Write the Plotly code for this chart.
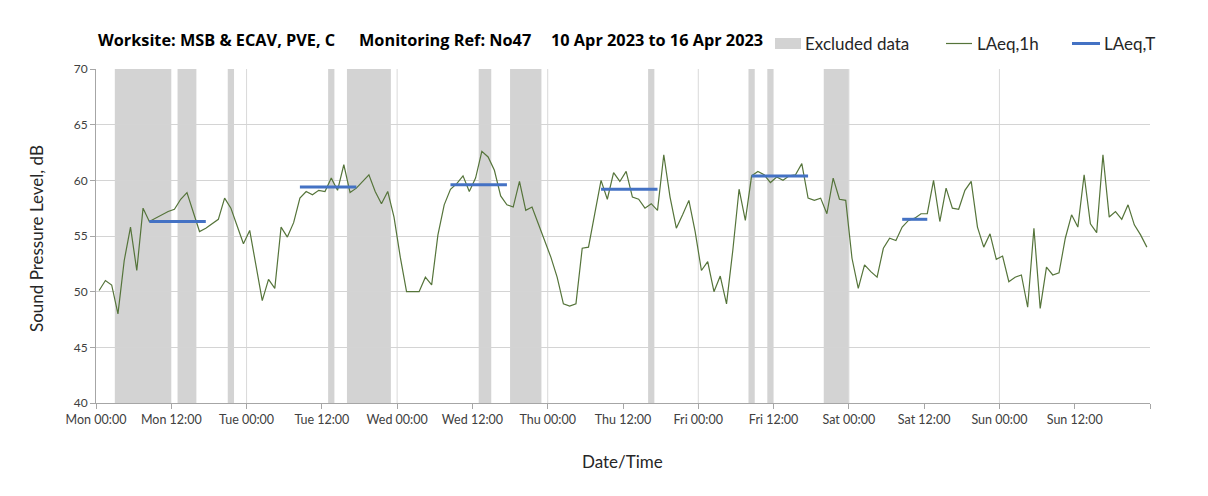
import plotly.graph_objects as go

days = ["Mon", "Tue", "Wed", "Thu", "Fri", "Sat", "Sun"]
tick_labels = [f"{d} {t}" for d in days for t in ("00:00", "12:00")]

# hourly LAeq,1h from Mon 00:00 (one value per hour, 168 hours)
laeq_1h = [
    50.1, 51.0, 50.6, 48.0, 52.8, 55.8, 51.9, 57.5, 56.3, 56.6, 56.9, 57.2,
    57.4, 58.3, 58.9, 57.1, 55.4, 55.7, 56.1, 56.5, 58.4, 57.5, 55.9, 54.3,
    55.5, 52.2, 49.2, 51.1, 50.3, 55.8, 54.9, 56.2, 58.4, 59.0, 58.7, 59.1,
    59.0, 60.2, 59.1, 61.4, 58.9, 59.3, 59.9, 60.5, 59.0, 57.9, 59.0, 56.7,
    53.1, 50.0, 50.0, 50.0, 51.3, 50.6, 55.1, 57.8, 59.2, 59.7, 60.4, 59.0,
    60.2, 62.6, 62.1, 60.9, 58.6, 57.8, 57.6, 59.9, 57.3, 57.6, 56.1, 54.6,
    53.1, 51.3, 48.9, 48.7, 48.9, 53.9, 54.0, 57.0, 60.0, 58.3, 60.7, 59.9,
    60.8, 58.5, 58.3, 57.5, 57.9, 57.3, 62.3, 58.5, 55.7, 56.9, 58.2, 55.4,
    51.9, 52.7, 50.0, 51.4, 48.9, 53.7, 59.2, 56.4, 60.4, 60.8, 60.5, 59.8,
    60.3, 60.0, 60.4, 60.5, 61.5, 58.4, 58.2, 58.4, 57.0, 60.2, 58.3, 58.2,
    53.0, 50.3, 52.4, 51.8, 51.3, 53.9, 54.8, 54.6, 55.8, 56.4, 56.6, 57.0,
    57.0, 60.0, 56.3, 59.3, 57.5, 57.4, 59.1, 59.9, 55.8, 54.0, 55.2, 52.9,
    53.2, 50.9, 51.3, 51.5, 48.6, 55.7, 48.5, 52.2, 51.5, 51.7, 54.8, 56.9,
    55.8, 60.5, 56.1, 55.3, 62.3, 56.7, 57.2, 56.5, 57.8, 56.0, 55.1, 54.0,
]

# excluded periods, hours from Mon 00:00
excl_start = [3, 13, 21, 37, 40, 61, 66, 88, 104, 107, 116]
excl_end = [12, 16, 22, 38, 47, 63, 71, 89, 105, 108, 120]

# LAeq,T daytime periods (first hour, last hour) and level
laeq_t_start = [8, 32, 56, 80, 104, 128]
laeq_t_end = [17, 41, 65, 89, 113, 132]
laeq_t = [56.3, 59.4, 59.6, 59.2, 60.4, 56.5]

FONT = "Lato"
GREEN = "#55743A"
BLUE = "#4472C4"
GREY = "#D3D3D3"

# page body has an 8px margin, so the figure is drawn 8px smaller and offset
OFF = 8
W, H = 1208 - OFF, 496 - OFF
L, R, T, B = 96, 1150, 69, 403   # plot area in screen pixels


def px(x):
    return (x - L) / (R - L)


def py(y):
    return (B - y) / (B - T)


hours = [i + 0.5 for i in range(len(laeq_1h))]

tx, ty = [], []
for s, e, v in zip(laeq_t_start, laeq_t_end, laeq_t):
    tx += [s + 0.5, e + 0.5, None]
    ty += [v, v, None]

fig = go.Figure()
fig.add_trace(go.Scatter(x=hours, y=laeq_1h, mode="lines", name="LAeq,1h",
                         line=dict(color=GREEN, width=1.2)))
fig.add_trace(go.Scatter(x=tx, y=ty, mode="lines", name="LAeq,T",
                         line=dict(color=BLUE, width=3)))

shapes = []
for s, e in zip(excl_start, excl_end):
    shapes.append(dict(type="rect", xref="x", yref="y", x0=s, x1=e, y0=40, y1=70,
                       fillcolor=GREY, line=dict(width=0), layer="below"))
for d in range(24, 168, 24):
    shapes.append(dict(type="line", xref="x", yref="y", x0=d, x1=d, y0=40, y1=70,
                       line=dict(color="#D9D9D9", width=1), layer="below"))

# legend drawn by hand
shapes.append(dict(type="rect", xref="paper", yref="paper", x0=px(775), x1=px(801),
                   y0=py(49), y1=py(38), fillcolor=GREY, line=dict(width=0)))
shapes.append(dict(type="line", xref="paper", yref="paper", x0=px(946), x1=px(972),
                   y0=py(43.5), y1=py(43.5), line=dict(color=GREEN, width=1.2)))
shapes.append(dict(type="line", xref="paper", yref="paper", x0=px(1072), x1=px(1100),
                   y0=py(43.5), y1=py(43.5), line=dict(color=BLUE, width=3)))

annotations = []
for text, x in [("Excluded data", 803), ("LAeq,1h", 974.5), ("LAeq,T", 1102)]:
    annotations.append(dict(text=text, x=px(x), y=py(43.5), xref="paper", yref="paper",
                            xanchor="left", yanchor="middle", showarrow=False,
                            font=dict(family=FONT, size=17, color="#262626")))
for text, x in [("Worksite: MSB & ECAV, PVE, C", 96), ("Monitoring Ref: No47", 357),
                ("10 Apr 2023 to 16 Apr 2023", 549)]:
    annotations.append(dict(text=f"<b>{text}</b>", x=px(x), y=py(40), xref="paper",
                            yref="paper", xanchor="left", yanchor="middle", showarrow=False,
                            font=dict(family="Open Sans", size=16.3, color="#000000")))
annotations.append(dict(text="Sound Pressure Level, dB", x=px(36), y=py(239), xref="paper",
                        yref="paper", xanchor="center", yanchor="middle", textangle=-90,
                        showarrow=False, font=dict(family=FONT, size=17, color="#262626")))
annotations.append(dict(text="Date/Time", x=px(622), y=py(462), xref="paper", yref="paper",
                        xanchor="center", yanchor="middle", showarrow=False,
                        font=dict(family=FONT, size=17, color="#262626")))

fig.update_layout(
    width=W, height=H,
    margin=dict(l=L - OFF, r=W - (R - OFF), t=T - OFF, b=H - (B - OFF)),
    paper_bgcolor="white", plot_bgcolor="white",
    showlegend=False,
    shapes=shapes, annotations=annotations,
    xaxis=dict(range=[0, 168], tickvals=list(range(0, 169, 12)),
               ticktext=tick_labels + [""], showgrid=False, zeroline=False,
               showline=True, linecolor="#A6A6A6", ticks="outside", ticklen=5,
               tickcolor="#A6A6A6", tickfont=dict(family=FONT, size=12.5, color="#404040")),
    yaxis=dict(range=[40, 70], dtick=5, showgrid=True, gridcolor="#D4D4D4",
               zeroline=False, showline=True, linecolor="#A6A6A6", ticks="outside",
               ticklen=5, tickcolor="#A6A6A6",
               tickfont=dict(family=FONT, size=12, color="#404040")),
)

fig.write_html("out.html")
